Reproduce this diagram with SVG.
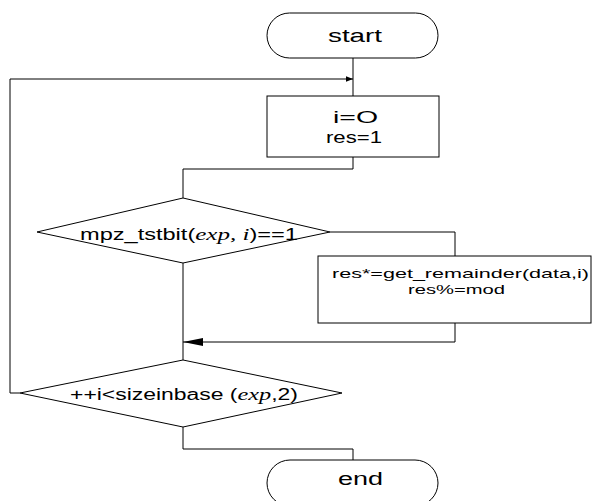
<svg xmlns="http://www.w3.org/2000/svg" width="594" height="501" viewBox="0 0 594 501">
<defs>
<style>
.s{fill:#fff;stroke:#000;stroke-width:1}
.c{fill:none;stroke:#000;stroke-width:1}
.t{font-family:"Liberation Sans",Arial,sans-serif;fill:#000}
.m{font-family:"Liberation Serif",serif;font-style:italic}
</style>
<marker id="ah" viewBox="0 0 10 10" refX="10" refY="5" markerWidth="7" markerHeight="7" orient="auto" markerUnits="userSpaceOnUse">
<path d="M0,1 L10,5 L0,9 Z" fill="#000"/>
</marker>
<marker id="ab" viewBox="0 0 20 8" refX="20" refY="4" markerWidth="20" markerHeight="8" orient="auto" markerUnits="userSpaceOnUse">
<path d="M0,0 L20,4 L0,8 Z" fill="#000"/>
</marker>
</defs>
<rect width="594" height="501" fill="#fff"/>
<g id="connectors">
<path class="c" d="M353,58 V96"/>
<path class="c" d="M20,393 H10 V79 H353" marker-end="url(#ah)"/>
<path class="c" d="M353,157 V169 H183 V198"/>
<path class="c" d="M330,232 H455 V256"/>
<path class="c" d="M455,323 V342 H183" marker-end="url(#ab)"/>
<path class="c" d="M183,263 V360"/>
<path class="c" d="M183,427 V449 H353 V460"/>
</g>
<g id="start">
<rect class="s" x="267" y="13" width="171" height="45" rx="22.5" ry="22.5"/>
<text class="t" x="328" y="42" font-size="18" textLength="54" lengthAdjust="spacingAndGlyphs">start</text>
</g>
<g id="init">
<rect class="s" x="267" y="96" width="172" height="61"/>
<text class="t" x="333" y="123" font-size="17" textLength="45" lengthAdjust="spacingAndGlyphs">i=O</text>
<text class="t" x="326" y="143" font-size="17" textLength="56" lengthAdjust="spacingAndGlyphs">res=1</text>
</g>
<g id="test">
<polygon class="s" points="183,198 330,232 183,263 37,232"/>
<text class="t" x="80" y="240" font-size="16" textLength="218" lengthAdjust="spacingAndGlyphs">mpz_tstbit(<tspan class="m" font-size="17">exp, i</tspan>)==1</text>
</g>
<g id="mult">
<rect class="s" x="318" y="256" width="273" height="67"/>
<text class="t" x="332" y="278" font-size="13.5" textLength="257" lengthAdjust="spacingAndGlyphs">res*=get_remainder(data,i)</text>
<text class="t" x="408" y="294" font-size="13" textLength="97" lengthAdjust="spacingAndGlyphs">res%=mod</text>
</g>
<g id="loop">
<polygon class="s" points="183,360 342,393 183,427 20,393"/>
<text class="t" x="70" y="400" font-size="16" textLength="228" lengthAdjust="spacingAndGlyphs">++i&lt;sizeinbase (<tspan class="m" font-size="17">exp</tspan>,2)</text>
</g>
<g id="end">
<rect class="s" x="267" y="460" width="171" height="46" rx="23" ry="23"/>
<text class="t" x="338" y="485" font-size="18" textLength="45" lengthAdjust="spacingAndGlyphs">end</text>
</g>
</svg>
